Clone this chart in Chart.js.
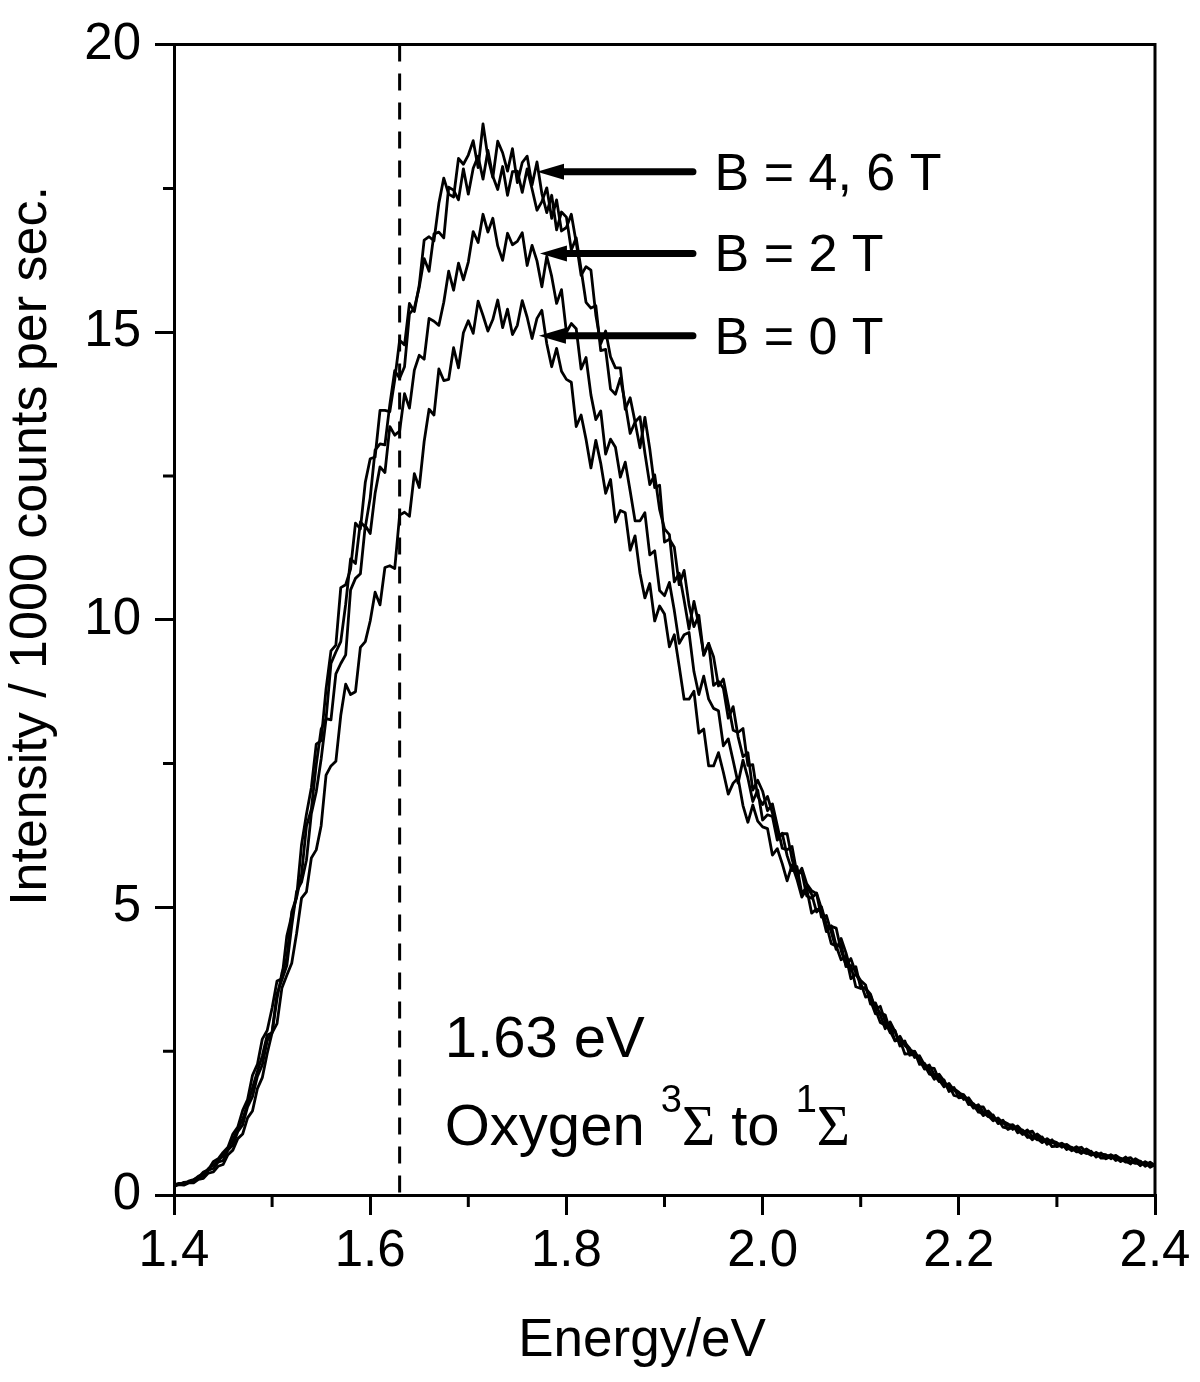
<!DOCTYPE html>
<html>
<head>
<meta charset="utf-8">
<script src="https://cdn.jsdelivr.net/npm/chart.js@4.4.1/dist/chart.umd.min.js"></script>
<style>
  html, body { margin: 0; padding: 0; background: #fff; }
  #wrap { width: 1200px; height: 1382px; }
</style>
</head>
<body>
<div id="wrap"><canvas id="spectrum"></canvas></div>
<script>
// photon energy in eV (sampling grid of the spectra)
const energy = [
  1.400, 1.405, 1.410, 1.415, 1.420, 1.425, 1.430, 1.435, 1.440, 1.445,
  1.450, 1.455, 1.460, 1.465, 1.470, 1.475, 1.480, 1.485, 1.490, 1.495,
  1.500, 1.505, 1.510, 1.515, 1.520, 1.525, 1.530, 1.535, 1.540, 1.545,
  1.550, 1.555, 1.560, 1.565, 1.570, 1.575, 1.580, 1.585, 1.590, 1.595,
  1.600, 1.605, 1.610, 1.615, 1.620, 1.625, 1.630, 1.635, 1.640, 1.645,
  1.650, 1.655, 1.660, 1.665, 1.670, 1.675, 1.680, 1.685, 1.690, 1.695,
  1.700, 1.705, 1.710, 1.715, 1.720, 1.725, 1.730, 1.735, 1.740, 1.745,
  1.750, 1.755, 1.760, 1.765, 1.770, 1.775, 1.780, 1.785, 1.790, 1.795,
  1.800, 1.805, 1.810, 1.815, 1.820, 1.825, 1.830, 1.835, 1.840, 1.845,
  1.850, 1.855, 1.860, 1.865, 1.870, 1.875, 1.880, 1.885, 1.890, 1.895,
  1.900, 1.905, 1.910, 1.915, 1.920, 1.925, 1.930, 1.935, 1.940, 1.945,
  1.950, 1.955, 1.960, 1.965, 1.970, 1.975, 1.980, 1.985, 1.990, 1.995,
  2.000, 2.005, 2.010, 2.015, 2.020, 2.025, 2.030, 2.035, 2.040, 2.045,
  2.050, 2.055, 2.060, 2.065, 2.070, 2.075, 2.080, 2.085, 2.090, 2.095,
  2.100, 2.105, 2.110, 2.115, 2.120, 2.125, 2.130, 2.135, 2.140, 2.145,
  2.150, 2.155, 2.160, 2.165, 2.170, 2.175, 2.180, 2.185, 2.190, 2.195,
  2.200, 2.205, 2.210, 2.215, 2.220, 2.225, 2.230, 2.235, 2.240, 2.245,
  2.250, 2.255, 2.260, 2.265, 2.270, 2.275, 2.280, 2.285, 2.290, 2.295,
  2.300, 2.305, 2.310, 2.315, 2.320, 2.325, 2.330, 2.335, 2.340, 2.345,
  2.350, 2.355, 2.360, 2.365, 2.370, 2.375, 2.380, 2.385, 2.390, 2.395,
  2.400
];

// intensity / 1000 counts per sec, one array per field
const fieldB6 = [
  0.18, 0.20, 0.19, 0.24, 0.27, 0.31, 0.40, 0.44, 0.58, 0.63,
  0.74, 0.83, 1.06, 1.18, 1.47, 1.66, 2.08, 2.27, 2.71, 2.86,
  3.25, 3.72, 3.76, 4.50, 4.86, 5.18, 6.09, 6.62, 7.08, 7.84,
  7.90, 8.80, 9.46, 9.56, 10.56, 10.61, 10.88, 11.68, 11.58, 12.39,
  12.80, 12.83, 13.64, 13.64, 13.62, 14.17, 14.86, 14.78, 15.50, 15.36,
  15.82, 16.60, 16.66, 16.59, 17.24, 17.68, 17.40, 17.35, 18.02, 17.92,
  18.08, 18.33, 17.86, 18.62, 18.04, 17.69, 18.32, 18.12, 17.80, 18.19,
  17.60, 17.95, 18.06, 17.56, 17.96, 17.41, 17.08, 17.38, 16.78, 17.09,
  17.00, 16.43, 16.64, 16.09, 15.52, 15.42, 15.46, 14.68, 14.70, 14.01,
  13.92, 14.20, 13.76, 13.24, 13.44, 13.53, 12.90, 12.35, 12.52, 11.92,
  11.58, 11.48, 10.66, 10.81, 10.34, 9.84, 10.32, 9.92, 9.40, 9.59,
  8.86, 8.93, 8.81, 8.29, 8.49, 7.97, 7.62, 7.69, 7.04, 7.21,
  7.02, 6.68, 6.80, 6.42, 6.03, 6.00, 6.06, 5.59, 5.61, 5.20,
  5.16, 5.25, 4.98, 4.65, 4.67, 4.64, 4.25, 4.00, 4.11, 3.86,
  3.73, 3.65, 3.32, 3.34, 3.13, 2.89, 3.01, 2.84, 2.63, 2.68,
  2.43, 2.45, 2.40, 2.22, 2.26, 2.09, 1.97, 2.00, 1.80, 1.85,
  1.79, 1.66, 1.69, 1.57, 1.44, 1.43, 1.45, 1.31, 1.32, 1.18,
  1.16, 1.22, 1.14, 1.05, 1.09, 1.11, 0.98, 0.91, 0.98, 0.91,
  0.89, 0.89, 0.79, 0.83, 0.78, 0.72, 0.80, 0.75, 0.68, 0.73,
  0.63, 0.67, 0.68, 0.60, 0.66, 0.58, 0.55, 0.59, 0.50, 0.55,
  0.52
];

const fieldB4 = [
  0.19, 0.18, 0.22, 0.23, 0.26, 0.33, 0.36, 0.46, 0.52, 0.60,
  0.68, 0.81, 0.95, 1.15, 1.32, 1.58, 1.86, 2.15, 2.42, 2.78,
  2.82, 3.41, 3.86, 4.12, 4.92, 5.18, 5.57, 6.41, 6.71, 7.48,
  8.10, 8.28, 9.24, 9.44, 9.62, 10.27, 11.06, 10.98, 11.70, 11.61,
  12.12, 12.95, 13.06, 13.04, 13.74, 14.33, 14.20, 14.40, 15.32, 15.42,
  15.78, 16.28, 16.06, 16.71, 16.74, 16.64, 17.52, 17.47, 17.30, 17.84,
  17.40, 17.85, 18.06, 17.66, 18.16, 17.71, 17.48, 17.88, 17.38, 17.79,
  17.80, 17.43, 17.84, 17.49, 17.12, 17.27, 17.51, 16.98, 17.30, 16.76,
  16.82, 17.05, 16.56, 15.99, 16.14, 16.08, 15.30, 14.80, 15.02, 14.57,
  14.38, 14.38, 13.66, 13.86, 13.44, 12.99, 13.52, 12.97, 12.30, 12.34,
  11.35, 11.40, 11.26, 10.61, 10.86, 10.26, 9.88, 10.08, 9.38, 9.59,
  9.36, 8.85, 8.97, 8.53, 8.08, 8.04, 8.11, 7.47, 7.48, 6.93,
  6.79, 6.93, 6.64, 6.24, 6.28, 6.28, 5.84, 5.54, 5.68, 5.41,
  5.29, 5.24, 4.83, 4.86, 4.57, 4.27, 4.46, 4.21, 3.90, 3.97,
  3.60, 3.59, 3.49, 3.23, 3.28, 3.01, 2.82, 2.86, 2.59, 2.65,
  2.55, 2.39, 2.42, 2.26, 2.10, 2.08, 2.09, 1.90, 1.91, 1.73,
  1.71, 1.74, 1.63, 1.51, 1.53, 1.53, 1.38, 1.29, 1.34, 1.25,
  1.22, 1.22, 1.08, 1.13, 1.05, 0.96, 1.06, 0.99, 0.90, 0.96,
  0.84, 0.87, 0.87, 0.79, 0.84, 0.76, 0.72, 0.76, 0.66, 0.71,
  0.70, 0.63, 0.69, 0.63, 0.57, 0.57, 0.62, 0.51, 0.57, 0.48,
  0.53
];

const fieldB2 = [
  0.17, 0.20, 0.19, 0.23, 0.24, 0.31, 0.33, 0.43, 0.46, 0.57,
  0.60, 0.78, 0.87, 1.10, 1.22, 1.53, 1.71, 2.06, 2.26, 2.68,
  2.84, 3.50, 3.74, 3.99, 4.68, 5.28, 5.44, 5.82, 6.63, 7.01,
  7.58, 8.28, 8.26, 9.06, 9.24, 9.39, 10.52, 10.72, 10.80, 11.64,
  11.50, 12.20, 12.66, 12.56, 13.36, 13.21, 13.28, 13.93, 13.68, 14.34,
  14.60, 14.53, 15.24, 15.19, 15.12, 15.52, 16.06, 15.73, 16.20, 15.91,
  16.22, 16.75, 16.56, 17.05, 16.74, 16.98, 16.50, 16.25, 16.72, 16.52,
  16.58, 16.73, 16.16, 16.51, 16.24, 15.79, 16.32, 15.97, 15.50, 15.74,
  15.00, 15.15, 15.06, 14.36, 14.56, 13.91, 13.48, 13.63, 12.88, 13.14,
  13.00, 12.48, 12.74, 12.24, 11.72, 11.72, 11.86, 11.13, 11.20, 10.51,
  10.42, 10.65, 10.16, 9.59, 9.74, 9.78, 9.10, 8.70, 9.02, 8.62,
  8.46, 8.42, 7.81, 7.93, 7.55, 7.16, 7.56, 7.25, 6.84, 7.04,
  6.52, 6.61, 6.58, 6.17, 6.29, 5.90, 5.64, 5.71, 5.24, 5.36,
  5.23, 4.92, 5.01, 4.70, 4.37, 4.33, 4.36, 3.97, 3.99, 3.62,
  3.59, 3.61, 3.38, 3.15, 3.17, 3.13, 2.85, 2.68, 2.76, 2.60,
  2.52, 2.49, 2.27, 2.29, 2.16, 2.01, 2.10, 1.98, 1.83, 1.87,
  1.69, 1.70, 1.67, 1.53, 1.57, 1.44, 1.36, 1.39, 1.24, 1.28,
  1.24, 1.14, 1.20, 1.11, 1.00, 1.01, 1.05, 0.93, 0.96, 0.84,
  0.85, 0.90, 0.84, 0.77, 0.81, 0.83, 0.74, 0.69, 0.74, 0.69,
  0.68, 0.69, 0.60, 0.64, 0.60, 0.54, 0.63, 0.58, 0.52, 0.57,
  0.51
];

const fieldB0 = [
  0.15, 0.18, 0.17, 0.21, 0.21, 0.27, 0.29, 0.38, 0.40, 0.50,
  0.53, 0.70, 0.78, 0.98, 1.06, 1.34, 1.46, 1.85, 2.04, 2.46,
  2.82, 2.98, 3.60, 3.82, 4.03, 4.55, 5.16, 5.27, 5.86, 6.00,
  6.42, 7.30, 7.46, 7.54, 8.34, 8.88, 8.70, 8.75, 9.52, 9.62,
  9.98, 10.48, 10.26, 10.91, 10.94, 10.89, 11.82, 11.87, 11.80, 12.54,
  12.30, 13.10, 13.66, 13.56, 14.36, 14.16, 14.18, 14.73, 14.38, 14.99,
  15.20, 14.98, 15.54, 15.29, 15.02, 15.22, 15.56, 15.08, 15.40, 14.96,
  15.12, 15.55, 15.26, 14.89, 15.24, 15.38, 14.80, 14.40, 14.72, 14.32,
  14.18, 14.13, 13.36, 13.56, 13.14, 12.64, 13.12, 12.72, 12.20, 12.44,
  11.70, 11.90, 11.86, 11.21, 11.46, 10.81, 10.38, 10.63, 9.98, 10.24,
  10.10, 9.53, 9.74, 9.19, 8.62, 8.62, 8.76, 8.03, 8.10, 7.46,
  7.46, 7.69, 7.35, 6.97, 7.16, 7.25, 6.77, 6.48, 6.78, 6.50,
  6.40, 6.37, 5.91, 6.02, 5.76, 5.46, 5.74, 5.49, 5.18, 5.32,
  4.90, 4.97, 4.93, 4.58, 4.68, 4.33, 4.09, 4.15, 3.76, 3.84,
  3.69, 3.44, 3.47, 3.23, 3.00, 2.95, 2.95, 2.68, 2.70, 2.45,
  2.46, 2.50, 2.35, 2.19, 2.21, 2.20, 2.00, 1.88, 1.94, 1.82,
  1.77, 1.74, 1.57, 1.59, 1.49, 1.38, 1.46, 1.37, 1.26, 1.30,
  1.14, 1.18, 1.18, 1.07, 1.13, 1.02, 0.96, 1.01, 0.88, 0.94,
  0.91, 0.83, 0.88, 0.82, 0.75, 0.76, 0.79, 0.70, 0.73, 0.64,
  0.64, 0.70, 0.65, 0.58, 0.63, 0.65, 0.57, 0.52, 0.58, 0.53,
  0.52
];

const seriesNames = ['B = 0 T', 'B = 2 T', 'B = 4 T', 'B = 6 T'];

// axis ticks
const xMinorTicks = [1.5, 1.7, 1.9, 2.1, 2.3];
const yMinorTicks = [2.5, 7.5, 12.5, 17.5];

// annotations
const markerEnergy = 1.63;
const arrowLabels = ['B = 4, 6 T', 'B = 2 T', 'B = 0 T'];
const arrowTipX = [1.770, 1.773, 1.772];
const arrowY = [17.79, 16.37, 14.94];
const arrowTailX = 1.929;
const arrowTextX = 1.951;
const noteX = 1.676;

const FONT = "'Liberation Sans', Arial, Helvetica, sans-serif";
const SERIF = "'Liberation Serif', 'Times New Roman', serif";

function toPoints(values) {
    return values.map((v, i) => ({ x: energy[i], y: v }));
}

const lineStyle = {
    borderColor: '#000',
    borderWidth: 2.8,
    pointRadius: 0,
    tension: 0,
    fill: false,
    borderJoinStyle: 'round'
};

const overlay = {
    id: 'overlay',
    afterDraw(chart) {
        const ctx = chart.ctx;
        const a = chart.chartArea;
        const x = chart.scales.x;
        const y = chart.scales.y;
        ctx.save();
        ctx.strokeStyle = '#000';
        ctx.fillStyle = '#000';
        ctx.lineWidth = 3;

        // top and right frame
        ctx.beginPath();
        ctx.moveTo(a.left - 1.5, a.top);
        ctx.lineTo(a.right, a.top);
        ctx.lineTo(a.right, a.bottom + 1.5);
        ctx.stroke();

        // minor ticks
        ctx.beginPath();
        xMinorTicks.forEach(v => {
            const px = x.getPixelForValue(v);
            ctx.moveTo(px, a.bottom);
            ctx.lineTo(px, a.bottom + 12);
        });
        yMinorTicks.forEach(v => {
            const py = y.getPixelForValue(v);
            ctx.moveTo(a.left - 11, py);
            ctx.lineTo(a.left, py);
        });
        ctx.stroke();

        // dashed marker line
        const mx = x.getPixelForValue(markerEnergy);
        ctx.setLineDash([17, 12]);
        ctx.beginPath();
        ctx.moveTo(mx, a.top);
        ctx.lineTo(mx, a.bottom);
        ctx.stroke();
        ctx.setLineDash([]);

        // arrows + labels
        ctx.font = '52px ' + FONT;
        ctx.textAlign = 'left';
        ctx.textBaseline = 'alphabetic';
        arrowLabels.forEach((label, i) => {
            const py = y.getPixelForValue(arrowY[i]);
            const tip = x.getPixelForValue(arrowTipX[i]);
            const tail = x.getPixelForValue(arrowTailX);
            ctx.lineWidth = 7;
            ctx.lineCap = 'round';
            ctx.beginPath();
            ctx.moveTo(tip + 20, py);
            ctx.lineTo(tail, py);
            ctx.stroke();
            ctx.lineCap = 'butt';
            ctx.beginPath();
            ctx.moveTo(tip, py);
            ctx.lineTo(tip + 27, py - 8);
            ctx.lineTo(tip + 27, py + 8);
            ctx.closePath();
            ctx.fill();
            ctx.fillText(label, x.getPixelForValue(arrowTextX), py + 18);
        });

        // note text
        const nx = x.getPixelForValue(noteX);
        ctx.font = '58px ' + FONT;
        ctx.fillText('1.63 eV', nx, 1057);
        let cx = nx;
        const by = 1145;
        const parts = [
            ['Oxygen ', '58px ' + FONT, 0],
            ['3', '38px ' + FONT, -33],
            ['\u03A3', '57px ' + SERIF, 0],
            [' to ', '58px ' + FONT, 0],
            ['1', '38px ' + FONT, -33],
            ['\u03A3', '57px ' + SERIF, 0]
        ];
        parts.forEach(([t, f, dy]) => {
            ctx.font = f;
            ctx.fillText(t, cx, by + dy);
            cx += ctx.measureText(t).width;
        });

        // axis titles
        ctx.font = '53px ' + FONT;
        ctx.textAlign = 'center';
        ctx.fillText('Energy/eV', 642, 1356);
        ctx.save();
        ctx.translate(46, 546);
        ctx.rotate(-Math.PI / 2);
        ctx.font = '52px ' + FONT;
        ctx.fillText('Intensity / 1000 counts per sec.', 0, 0);
        ctx.restore();

        ctx.restore();
    }
};

const ctxSpec = document.getElementById('spectrum').getContext('2d');
const spectrumChart = new Chart(ctxSpec, {
    type: 'line',
    data: {
        datasets: [
            { label: seriesNames[0], data: toPoints(fieldB0), ...lineStyle },
            { label: seriesNames[1], data: toPoints(fieldB2), ...lineStyle },
            { label: seriesNames[2], data: toPoints(fieldB4), ...lineStyle },
            { label: seriesNames[3], data: toPoints(fieldB6), ...lineStyle }
        ]
    },
    options: {
        responsive: true,
        maintainAspectRatio: false,
        animation: false,
        layout: { padding: { top: 44, right: 45, left: 0, bottom: 0 } },
        plugins: {
            legend: { display: false },
            tooltip: { enabled: false }
        },
        scales: {
            x: {
                type: 'linear',
                min: 1.4,
                max: 2.4,
                afterFit(scale) { scale.height = 187; },
                border: { display: true, color: '#000', width: 3 },
                grid: { drawOnChartArea: false, drawTicks: true, tickLength: 20, color: '#000', lineWidth: 3 },
                ticks: {
                    stepSize: 0.2,
                    padding: 6,
                    color: '#000',
                    font: { family: FONT, size: 51 },
                    maxRotation: 0,
                    callback: v => v.toFixed(1)
                }
            },
            y: {
                min: 0,
                max: 20,
                afterFit(scale) { scale.width = 174; },
                border: { display: true, color: '#000', width: 3 },
                grid: { drawOnChartArea: false, drawTicks: true, tickLength: 19, color: '#000', lineWidth: 3 },
                ticks: {
                    stepSize: 5,
                    padding: 14,
                    color: '#000',
                    font: { family: FONT, size: 51 },
                    callback: v => String(v)
                }
            }
        }
    },
    plugins: [overlay]
});
</script>
</body>
</html>
